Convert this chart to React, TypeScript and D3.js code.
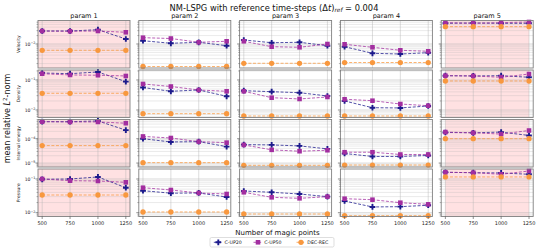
import React from "react";
import * as d3 from "d3";

const magicPoints = [500, 750, 1000, 1250];
const params = ["param 1", "param 2", "param 3", "param 4", "param 5"];
const quantities = ["Velocity", "Density", "Internal energy", "Pressure"];
const seriesNames = ["C-UP20", "C-UP50", "DEC-REC"];

// y limits per quantity (log axis, shared along a row)
const yLimits = [
  [1.39e-3, 6.9e-2],
  [5.62e-3, 0.215],
  [6.89e-6, 6.15e-4],
  [7.71e-3, 0.198],
];

// errors: [quantity][param][magic point]
const cup20 = [
  [[0.0291, 0.0291, 0.0324, 0.0151], [0.0131, 0.0106, 0.0115, 0.00869], [0.0139, 0.0111, 0.0115, 0.00869], [0.00801, 0.00466, 0.00439, 0.00489], [0.0548, 0.0562, 0.0548, 0.0548]],
  [[0.171, 0.162, 0.185, 0.0878], [0.0562, 0.042, 0.0464, 0.0286], [0.044, 0.0407, 0.0377, 0.0293], [0.02, 0.0119, 0.0117, 0.0136], [0.139, 0.136, 0.139, 0.123]],
  [[5.01e-4, 5.01e-4, 5.36e-4, 2.25e-4], [1.0e-4, 7.35e-5, 7.57e-5, 4.74e-5], [5.71e-5, 5.56e-5, 5.06e-5, 3.83e-5], [2.47e-5, 1.87e-5, 1.87e-5, 2.05e-5], [1.8e-4, 1.75e-4, 1.87e-4, 1.36e-4]],
  [[0.098, 0.1, 0.115, 0.0552], [0.045, 0.0379, 0.0385, 0.0292], [0.0441, 0.0403, 0.0359, 0.0299], [0.0222, 0.0148, 0.0151, 0.0166], [0.158, 0.154, 0.151, 0.138]],
];

const cup50 = [
  [[0.0291, 0.0285, 0.0291, 0.0262], [0.0168, 0.0157, 0.0115, 0.0125], [0.0125, 0.00801, 0.00762, 0.01], [0.00976, 0.00762, 0.00596, 0.00548], [0.0577, 0.0548, 0.0577, 0.0611]],
  [[0.162, 0.147, 0.144, 0.136], [0.0736, 0.0607, 0.0464, 0.042], [0.042, 0.0257, 0.0233, 0.0271], [0.0228, 0.0204, 0.0158, 0.0139], [0.139, 0.136, 0.123, 0.158]],
  [[5.01e-4, 4.88e-4, 4.88e-4, 4.33e-4], [1.24e-4, 1.07e-4, 7.57e-5, 6.89e-5], [5.56e-5, 3.49e-5, 3.06e-5, 3.36e-5], [2.79e-5, 2.79e-5, 2.25e-5, 2.25e-5], [1.87e-4, 1.75e-4, 1.55e-4, 2.17e-4]],
  [[0.1, 0.0891, 0.0873, 0.0798], [0.0552, 0.0472, 0.0385, 0.0359], [0.0403, 0.0286, 0.0267, 0.0299], [0.026, 0.0243, 0.0198, 0.0177], [0.158, 0.154, 0.138, 0.173]],
];

const decRec = [
  [[0.00596, 0.00596, 0.00596, 0.00596], [0.00157, 0.00157, 0.00157, 0.00157], [0.00205, 0.00205, 0.00205, 0.00205], [0.00218, 0.00218, 0.00218, 0.00218], [0.0415, 0.0415, 0.0415, 0.0415]],
  [[0.036, 0.036, 0.036, 0.036], [0.00753, 0.00753, 0.00753, 0.00753], [0.00631, 0.00631, 0.00631, 0.00631], [0.00631, 0.00631, 0.00631, 0.00631], [0.0926, 0.0926, 0.0926, 0.0926]],
  [[5.21e-5, 5.21e-5, 5.21e-5, 5.21e-5], [1.04e-5, 1.04e-5, 1.04e-5, 1.04e-5], [8.07e-6, 8.07e-6, 8.07e-6, 8.07e-6], [8.3e-6, 8.3e-6, 8.3e-6, 8.3e-6], [1.0e-4, 1.0e-4, 1.0e-4, 1.0e-4]],
  [[0.0335, 0.0335, 0.0335, 0.0335], [0.0105, 0.0105, 0.0105, 0.0105], [0.00914, 0.00914, 0.00914, 0.00914], [0.00815, 0.00815, 0.00815, 0.00815], [0.115, 0.115, 0.115, 0.115]],
];

const colors = ["#1c1a8c", "#a22ea0", "#f8983f"];
const font = "DejaVu Sans, sans-serif";

const W = 538, H = 251;
const panelW = 92, panelH = 47.5;
const left0 = 38, colStep = 100.8;
const top0 = 20.5, rowStep = 49.5;

const xScale = d3.scaleLinear().domain([462.5, 1287.5]).range([0, panelW]);

const symbols = [
  d3.symbol(d3.symbolCross, 18)(),
  d3.symbol(d3.symbolSquare, 21)(),
  d3.symbol(d3.symbolCircle, 22)(),
];

function decadeTicks(lo: number, hi: number) {
  const major: number[] = [], minor: number[] = [];
  for (let e = Math.floor(Math.log10(lo)); e <= Math.ceil(Math.log10(hi)); e++) {
    for (let m = 1; m < 10; m++) {
      const v = m * Math.pow(10, e);
      if (v < lo || v > hi) continue;
      (m === 1 ? major : minor).push(v);
    }
  }
  return { major, minor };
}

function Panel({ row, col }: { row: number; col: number }) {
  const x0 = left0 + col * colStep;
  const y0 = top0 + row * rowStep;
  const yScale = d3.scaleLog().domain(yLimits[row]).range([panelH, 0]);
  const { major, minor } = decadeTicks(yLimits[row][0], yLimits[row][1]);
  const line = d3.line<number>().x((_, i) => xScale(magicPoints[i])).y((d) => yScale(d));
  const all = [cup20[row][col], cup50[row][col], decRec[row][col]];
  const bottom = row === quantities.length - 1;
  return (
    <g transform={`translate(${x0},${y0})`}>
      <rect width={panelW} height={panelH} fill="#fff" />
      {col === 0 && <rect width={panelW} height={panelH} fill="#ffe1e2" />}
      {col === 4 && (
        <rect x={xScale(500)} width={xScale(1250) - xScale(500)} height={panelH} fill="#ffe1e2" />
      )}
      {minor.map((v, i) => (
        <line key={"gm" + i} x1={0} x2={panelW} y1={yScale(v)} y2={yScale(v)} stroke="#b0b0b0" strokeOpacity={0.45} strokeWidth={0.6} />
      ))}
      {major.map((v, i) => (
        <line key={"gM" + i} x1={0} x2={panelW} y1={yScale(v)} y2={yScale(v)} stroke="#b0b0b0" strokeOpacity={0.6} strokeWidth={0.8} />
      ))}
      {magicPoints.map((m) => (
        <line key={"gx" + m} x1={xScale(m)} x2={xScale(m)} y1={0} y2={panelH} stroke="#b0b0b0" strokeOpacity={0.55} strokeWidth={0.8} />
      ))}
      {all.map((vals, s) => (
        <g key={"s" + s}>
          <path d={line(vals) || ""} fill="none" stroke={colors[s]} strokeWidth={0.9} strokeDasharray="3,1.6" strokeOpacity={0.85} />
          {vals.map((v, i) => (
            <path key={i} d={symbols[s] || ""} transform={`translate(${xScale(magicPoints[i])},${yScale(v)})`} fill={colors[s]} />
          ))}
        </g>
      ))}
      <rect width={panelW} height={panelH} fill="none" stroke="#808080" strokeWidth={0.9} />
      {major.map((v, i) => (
        <line key={"tM" + i} x1={-2.5} x2={0} y1={yScale(v)} y2={yScale(v)} stroke="#444" strokeWidth={0.6} />
      ))}
      {minor.map((v, i) => (
        <line key={"tm" + i} x1={-1.5} x2={0} y1={yScale(v)} y2={yScale(v)} stroke="#444" strokeWidth={0.4} />
      ))}
      {col === 0 &&
        major.map((v, i) => (
          <text key={"l" + i} x={-2.5} y={yScale(v) + 1.8} textAnchor="end" fontSize={4.6} fill="#222" fontFamily={font}>
            10<tspan dy={-1.9} fontSize={3.4}>{"\u2212" + Math.round(-Math.log10(v))}</tspan>
          </text>
        ))}
      {bottom &&
        magicPoints.map((m) => (
          <g key={"xt" + m}>
            <line x1={xScale(m)} x2={xScale(m)} y1={panelH} y2={panelH + 2.5} stroke="#444" strokeWidth={0.6} />
            <text x={xScale(m)} y={panelH + 8} textAnchor="middle" fontSize={5} fill="#222" fontFamily={font}>{m}</text>
          </g>
        ))}
      {row === 0 && (
        <text x={panelW / 2} y={-3} textAnchor="middle" fontSize={6.5} fill="#111" fontFamily={font}>{params[col]}</text>
      )}
      {col === 0 && (
        <text transform={`translate(${19.8 - x0},${panelH / 2}) rotate(-90)`} textAnchor="middle" fontSize={4.5} fill="#222" fontFamily={font}>{quantities[row]}</text>
      )}
    </g>
  );
}

export default function App() {
  const legendX = [218.3, 258, 301];
  const legendY = 242.3;
  return (
    <svg width={W} height={H} style={{ position: "absolute", left: 0, top: 0, background: "#fff" }}>
      <text x={274} y={10.5} textAnchor="middle" fontSize={8.3} fill="#111" fontFamily={font}>
        NM-LSPG with reference time-steps (Δ<tspan fontStyle="italic">t</tspan>)
        <tspan dy={1.8} fontSize={5.8} fontStyle="italic">ref</tspan>
        <tspan dy={-1.8}> = 0.004</tspan>
      </text>
      {quantities.map((_, r) => params.map((_, c) => <Panel key={r + "-" + c} row={r} col={c} />))}
      <text transform={`translate(9.5,118.5) rotate(-90)`} textAnchor="middle" fontSize={8} fill="#111" fontFamily={font}>
        mean relative <tspan fontStyle="italic">L</tspan><tspan dy={-3} fontSize={5.5}>2</tspan><tspan dy={3}>-norm</tspan>
      </text>
      <text x={277.5} y={235} textAnchor="middle" fontSize={7} fill="#111" fontFamily={font}>Number of magic points</text>
      <rect x={210} y={237.5} width={124} height={9.5} rx={1.5} fill="#fff" stroke="#d0d0d0" strokeWidth={0.7} />
      {seriesNames.map((name, s) => (
        <g key={name}>
          <line x1={legendX[s] - 4.5} x2={legendX[s] + 4.5} y1={legendY} y2={legendY} stroke={colors[s]} strokeWidth={0.9} strokeDasharray="3,1.6" strokeOpacity={0.85} />
          <path d={symbols[s] || ""} transform={`translate(${legendX[s]},${legendY})`} fill={colors[s]} />
          <text x={legendX[s] + 6.3} y={legendY + 1.7} fontSize={4.7} fill="#222" fontFamily={font}>{name}</text>
        </g>
      ))}
    </svg>
  );
}
